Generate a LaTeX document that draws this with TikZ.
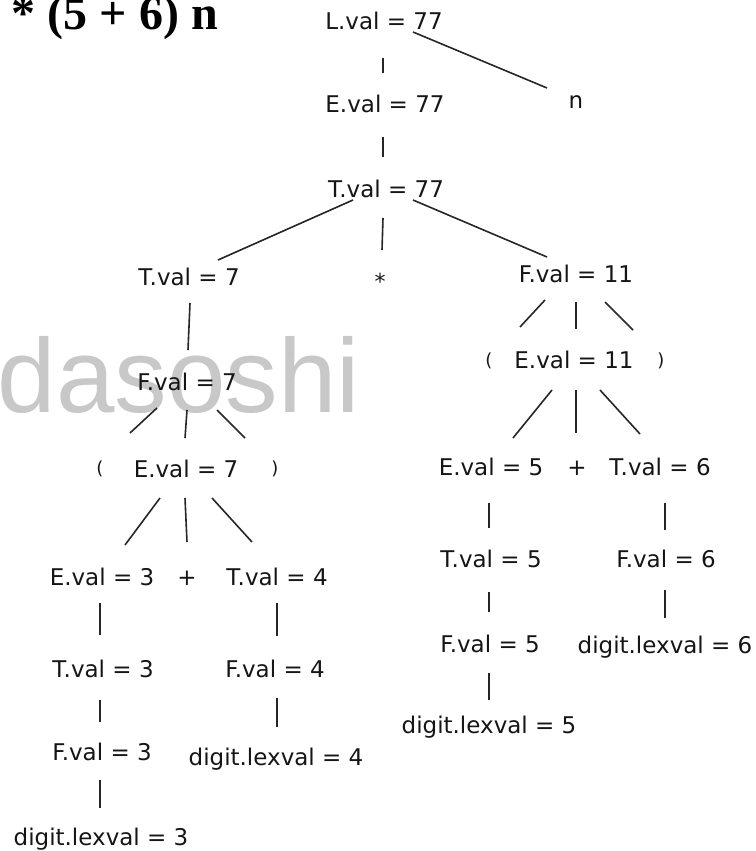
\documentclass[tikz,border=0pt]{standalone}
\usepackage{fontspec}
\setmainfont{DejaVu Sans}
\newfontfamily\ttlfont{Liberation Serif}
\newfontfamily\wmfont{Liberation Sans}
\usetikzlibrary{calc}
\definecolor{txt}{HTML}{151515}
\definecolor{linec}{HTML}{262626}
\definecolor{wmc}{HTML}{C8C8C8}
\tikzset{
  lbl/.style={anchor=base, inner sep=0pt, outer sep=0pt, text=txt, font=\fontsize{23}{28}\selectfont},
  paren/.style={anchor=base, inner sep=0pt, outer sep=0pt, text=txt, font=\fontsize{18}{22}\selectfont},
  astk/.style={anchor=base, inner sep=0pt, outer sep=0pt, text=txt, font=\fontsize{22}{26}\selectfont},
  ttl/.style={anchor=base west, inner sep=0pt, outer sep=0pt, text=black, font=\ttlfont\bfseries\fontsize{48}{54}\selectfont},
  wmark/.style={anchor=base west, inner sep=0pt, outer sep=0pt, text=wmc, font=\wmfont\fontsize{105}{120}\selectfont},
  link/.style={draw=linec, line width=1.6pt}
}
\begin{document}
\begin{tikzpicture}[x=1pt,y=-1pt]
\useasboundingbox (0,0) rectangle (755,851);
\node[wmark] (wm) at (-2,412) {dasoshi};
\node[ttl] (title) at (12,30) {* (5 + 6) n};

\node[lbl] (L) at (384,30) {L.val = 77};
\node[lbl] (n) at (576,108) {n};
\node[lbl] (E77) at (385,112) {E.val = 77};
\node[lbl] (T77) at (386,197) {T.val = 77};
\node[lbl] (T7) at (189,285) {T.val = 7};
\node[astk] (st) at (380,289) {*};
\node[lbl] (F11) at (576,282) {F.val = 11};
\node[paren] (lp1) at (489,366) {(};
\node[lbl] (E11) at (574,368) {E.val = 11};
\node[paren] (rp1) at (661,366) {)};
\node[lbl] (E5) at (491,475) {E.val = 5};
\node[lbl] (pl2) at (577,475) {+};
\node[lbl] (T6) at (660,475) {T.val = 6};
\node[lbl] (T5) at (491,567) {T.val = 5};
\node[lbl] (F6) at (666,567) {F.val = 6};
\node[lbl] (F5) at (490,652) {F.val = 5};
\node[lbl] (d6) at (665,653) {digit.lexval = 6};
\node[lbl] (d5) at (489,733) {digit.lexval = 5};
\node[lbl] (F7) at (187,390) {F.val = 7};
\node[paren] (lp2) at (100,474) {(};
\node[lbl] (E7) at (186,477) {E.val = 7};
\node[paren] (rp2) at (275,474) {)};
\node[lbl] (E3) at (102,585) {E.val = 3};
\node[lbl] (pl1) at (187,585) {+};
\node[lbl] (T4) at (277,585) {T.val = 4};
\node[lbl] (T3) at (103,677) {T.val = 3};
\node[lbl] (F4) at (275,677) {F.val = 4};
\node[lbl] (F3) at (102,760) {F.val = 3};
\node[lbl] (d4) at (276,765) {digit.lexval = 4};
\node[lbl] (d3) at (101,845) {digit.lexval = 3};

\draw[link] ($(L.base)+(29,2)$) -- ($(n.base)+(-29,-20)$);
\draw[link] ($(L.base)+(-1,28)$) -- ($(E77.base)+(-2,-39)$);
\draw[link] ($(E77.base)+(-2,25)$) -- ($(T77.base)+(-3,-40)$);
\draw[link] ($(T77.base)+(-33,3)$) -- ($(T7.base)+(29,-25)$);
\draw[link] ($(T77.base)+(-3,21)$) -- ($(st.base)+(2,-39)$);
\draw[link] ($(T77.base)+(27,3)$) -- ($(F11.base)+(-29,-25)$);
\draw[link] ($(T7.base)+(1,18)$) -- ($(F7.base)+(1,-40)$);
\draw[link] ($(F7.base)+(-30,18)$) -- ($(lp2.base)+(30,-41)$);
\draw[link] ($(F7.base)+(0,20)$) -- ($(E7.base)+(-1,-39)$);
\draw[link] ($(F7.base)+(30,20)$) -- ($(rp2.base)+(-30,-36)$);
\draw[link] ($(E7.base)+(-26,21)$) -- ($(E3.base)+(23,-40)$);
\draw[link] ($(E7.base)+(-1,21)$) -- ($(pl1.base)+(0,-43)$);
\draw[link] ($(E7.base)+(26,21)$) -- ($(T4.base)+(-25,-43)$);
\draw[link] ($(E3.base)+(-2,18)$) -- ($(T3.base)+(-3,-42)$);
\draw[link] ($(T4.base)+(0,18)$) -- ($(F4.base)+(2,-41)$);
\draw[link] ($(T3.base)+(-3,23)$) -- ($(F3.base)+(-2,-38)$);
\draw[link] ($(F4.base)+(2,21)$) -- ($(d4.base)+(1,-38)$);
\draw[link] ($(F3.base)+(-2,20)$) -- ($(d3.base)+(-1,-37)$);
\draw[link] ($(F11.base)+(-31,18)$) -- ($(lp1.base)+(31,-39)$);
\draw[link] ($(F11.base)+(0,20)$) -- ($(E11.base)+(2,-39)$);
\draw[link] ($(F11.base)+(29,20)$) -- ($(rp1.base)+(-28,-36)$);
\draw[link] ($(E11.base)+(-22,22)$) -- ($(E5.base)+(22,-37)$);
\draw[link] ($(E11.base)+(2,22)$) -- ($(pl2.base)+(-1,-42)$);
\draw[link] ($(E11.base)+(26,22)$) -- ($(T6.base)+(-20,-41)$);
\draw[link] ($(E5.base)+(-2,28)$) -- ($(T5.base)+(-2,-39)$);
\draw[link] ($(T6.base)+(5,28)$) -- ($(F6.base)+(-1,-37)$);
\draw[link] ($(T5.base)+(-2,25)$) -- ($(F5.base)+(-1,-40)$);
\draw[link] ($(F6.base)+(-1,23)$) -- ($(d6.base)+(0,-35)$);
\draw[link] ($(F5.base)+(-1,21)$) -- ($(d5.base)+(0,-33)$);
\end{tikzpicture}
\end{document}
